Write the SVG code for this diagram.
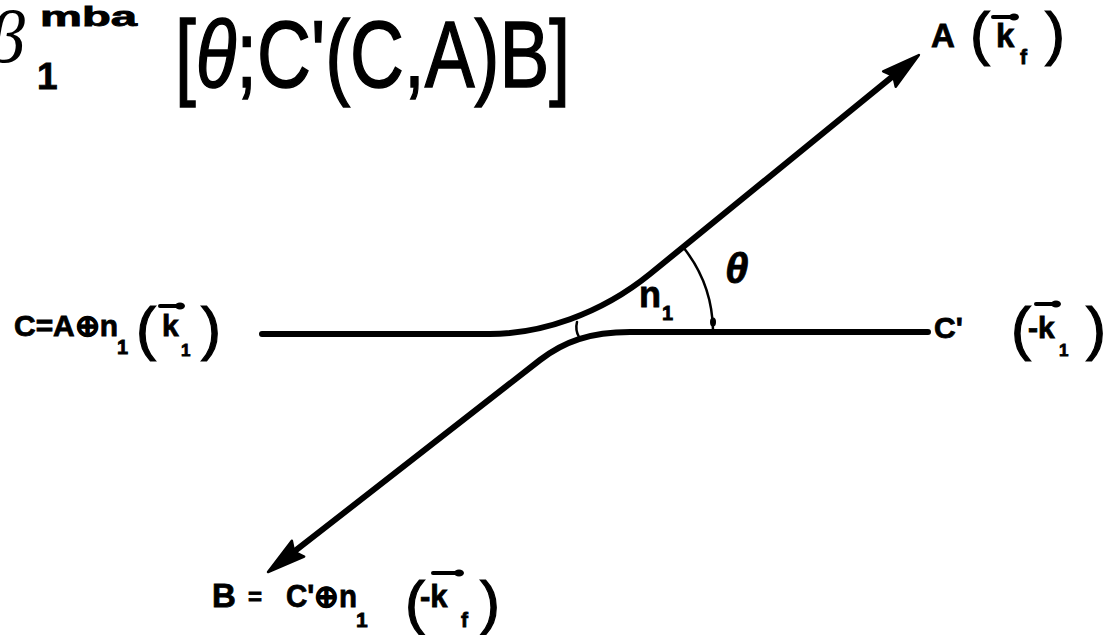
<svg xmlns="http://www.w3.org/2000/svg" width="1114" height="635" viewBox="0 0 1114 635">
<defs>
<style>
.lbl{font-family:"Liberation Sans",Arial,sans-serif;font-weight:bold;fill:#000;stroke:#000;stroke-width:0.8}
.par{font-family:"Liberation Sans",Arial,sans-serif;fill:#000;font-size:60px;stroke:#000;stroke-width:1.2}
.ttl{font-family:"Liberation Sans",Arial,sans-serif;fill:#000;stroke:#000;stroke-width:1.5}
.line{fill:none;stroke:#000;stroke-width:6;stroke-linecap:round;stroke-linejoin:round}
.thin{fill:none;stroke:#000;stroke-width:2.5;stroke-linecap:round}
.vec{fill:none;stroke:#000;stroke-width:4;stroke-linecap:round}
</style>
<marker id="head" markerUnits="userSpaceOnUse" markerWidth="46" markerHeight="28" viewBox="-4 -14 46 28" refX="18" refY="0" orient="auto">
<path d="M38,0 L0,-10 L5,0 L0,10 Z" fill="#000" stroke="#000" stroke-width="2.5" stroke-linejoin="round"/>
</marker>
<marker id="vhead" markerUnits="userSpaceOnUse" markerWidth="12" markerHeight="10" viewBox="-6 -5 12 10" refX="0" refY="0" orient="auto">
<ellipse cx="0" cy="0" rx="5" ry="3.5" fill="#000"/>
</marker>
</defs>
<rect width="1114" height="635" fill="#fff"/>

<g id="title">
<text x="-12" y="62" font-family="Liberation Serif,serif" font-style="italic" font-size="74" fill="#000">β</text>
<text class="lbl" x="40" y="26" font-size="27" textLength="97" lengthAdjust="spacingAndGlyphs">mba</text>
<text class="lbl" x="37" y="89" font-size="37">1</text>
<text class="ttl" x="175" y="87" font-size="94" textLength="395" lengthAdjust="spacingAndGlyphs">[<tspan font-style="italic">θ</tspan>;C'(C,A)B]</text>
</g>

<g id="connectors">
<path class="line" d="M262,334 H490 C540,334 600,314.6 650,274 L903.4,67.7" marker-end="url(#head)"/>
<path class="line" d="M928,332 H630 C590,332 564,341.6 540,360 L283.8,559.7" marker-end="url(#head)"/>
<path class="thin" d="M577,322 Q575,330 579,337"/>
<path class="thin" d="M683,247 A136,136 0 0 1 713,330"/>
<ellipse cx="713" cy="322" rx="3" ry="4.5" fill="#000"/>
</g>

<g id="node-A">
<text class="lbl" x="931" y="47" font-size="33">A</text>
<text class="par" x="970" y="54" font-size="55">(</text>
<text class="lbl" x="996" y="47" font-size="33">k</text>
<path class="vec" d="M993,17 H1014" marker-end="url(#vhead)"/>
<text class="lbl" x="1020" y="64" font-size="21">f</text>
<text class="par" x="1045" y="54" font-size="55">)</text>
</g>

<g id="node-C">
<text class="lbl" x="14" y="336" font-size="30" textLength="104" lengthAdjust="spacingAndGlyphs">C=A⊕n</text>
<text class="lbl" x="117" y="354" font-size="20">1</text>
<text class="par" x="136" y="349">(</text>
<text class="lbl" x="162" y="336" font-size="30">k</text>
<path class="vec" d="M160,306 H180" marker-end="url(#vhead)"/>
<text class="lbl" x="181" y="356" font-size="17">1</text>
<text class="par" x="201" y="349">)</text>
</g>

<g id="node-Cprime">
<text class="lbl" x="934" y="338" font-size="30">C'</text>
<text class="par" x="1011" y="349">(</text>
<text class="lbl" x="1028" y="338" font-size="30">-k</text>
<path class="vec" d="M1036,304 H1056" marker-end="url(#vhead)"/>
<text class="lbl" x="1059" y="356" font-size="17">1</text>
<text class="par" x="1086" y="349">)</text>
</g>

<g id="node-B">
<text class="lbl" x="212" y="607" font-size="33">B</text>
<text class="lbl" x="248" y="605" font-size="24">=</text>
<text class="lbl" x="286" y="607" font-size="31" textLength="71" lengthAdjust="spacingAndGlyphs">C'⊕n</text>
<text class="lbl" x="356" y="627" font-size="21">1</text>
<text class="par" x="405" y="623">(</text>
<text class="lbl" x="420" y="607" font-size="31">-k</text>
<path class="vec" d="M433,573 H459" marker-end="url(#vhead)"/>
<text class="lbl" x="461" y="627" font-size="21">f</text>
<text class="par" x="480" y="623">)</text>
</g>

<g id="angle-labels">
<text class="lbl" x="725" y="283" font-size="42" font-style="italic">θ</text>
<text class="lbl" x="639" y="307" font-size="36">n</text>
<text class="lbl" x="662" y="320" font-size="20">1</text>
</g>
</svg>
